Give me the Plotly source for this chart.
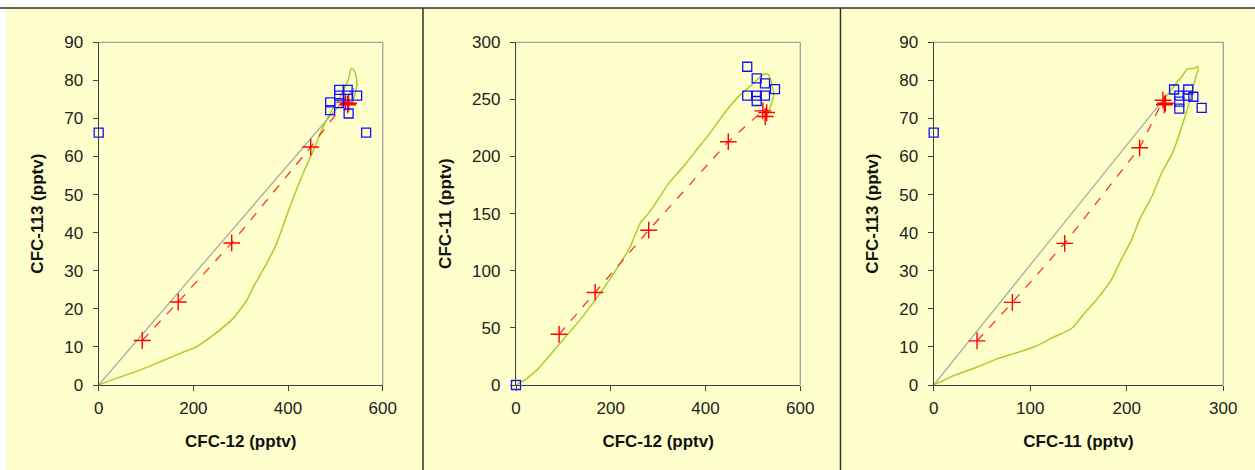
import plotly.graph_objects as go

# ---------------- data ----------------
# Panel 1: CFC-113 vs CFC-12
p1_green_x = [0, 38, 87, 130, 172, 207, 242, 284, 313, 327, 355, 376, 404, 432, 457, 471, 489, 510, 527, 534, 541, 546, 544, 538]
p1_green_y = [0, 1.8, 3.9, 6.1, 8.3, 10.1, 13.1, 17.5, 22.3, 25.8, 32, 37.2, 46.8, 55.6, 62.6, 67, 71.4, 75.7, 80.1, 83.2, 82.3, 79.2, 77.5, 75]
p1_gray_x = [0, 540]
p1_gray_y = [0, 78]
p1_red_x = [92, 168, 281, 448, 521, 528, 526]
p1_red_y = [11.7, 21.8, 37.3, 62.5, 74.3, 74.0, 73.6]
p1_blue_x = [0, 489, 489, 508, 526, 508, 526, 546, 508, 528, 565]
p1_blue_y = [66.3, 74.2, 72.2, 77.5, 77.5, 76.0, 76.0, 76.0, 74.0, 71.3, 66.3]

# Panel 2: CFC-11 vs CFC-12
p2_green_x = [0, 20, 44, 93, 135, 177, 220, 241, 262, 283, 325, 353, 381, 409, 445, 473, 501, 522, 532, 537, 544, 539, 532, 525]
p2_green_y = [0, 5, 13, 36.5, 57, 80, 106.5, 121, 141.5, 152, 178, 191, 205.7, 220.3, 240.7, 254, 264, 272, 272, 268, 255, 246, 238, 230]
p2_red_x = [91, 167, 280, 448, 521, 529, 526]
p2_red_y = [44.4, 81, 135.5, 213, 240, 238.5, 235]
p2_blue_x = [0, 488, 508, 525.5, 546.6, 488, 508, 525.5, 508]
p2_blue_y = [0, 278.6, 268.5, 264, 259, 253.3, 253.3, 253.3, 248.6]

# Panel 3: CFC-113 vs CFC-11
p3_green_x = [0, 22, 46, 67, 84, 105, 122, 143, 156, 170, 184, 194, 205, 213, 226, 236, 248, 257, 264, 269, 274, 270, 263, 257, 246, 238]
p3_green_y = [0, 2.6, 4.8, 7, 8.3, 10.1, 12.3, 14.9, 18.8, 22.8, 27.6, 32.8, 38.1, 43.3, 49.5, 55.6, 61.3, 67.9, 73.5, 78.4, 83.6, 83.2, 83, 81, 77.5, 74.8]
p3_gray_x = [0, 238]
p3_gray_y = [0, 75]
p3_red_x = [44.9, 81.5, 135.7, 213.3, 237.5, 240, 239]
p3_red_y = [11.6, 21.7, 37.2, 62.3, 74.8, 74.0, 73.6]
p3_blue_x = [0, 249, 263.7, 254.4, 263, 269, 254.4, 254.4, 277.6]
p3_blue_y = [66.3, 77.6, 77.6, 76.0, 76.0, 75.7, 74.4, 72.6, 72.8]

panels = [
    dict(green=(p1_green_x, p1_green_y), gray=(p1_gray_x, p1_gray_y), red=(p1_red_x, p1_red_y),
         blue=(p1_blue_x, p1_blue_y), xr=[0, 600], xd=200, yr=[0, 90], yd=10,
         xt="CFC-12 (pptv)", yt="CFC-113 (pptv)"),
    dict(green=(p2_green_x, p2_green_y), gray=None, red=(p2_red_x, p2_red_y),
         blue=(p2_blue_x, p2_blue_y), xr=[0, 600], xd=200, yr=[0, 300], yd=50,
         xt="CFC-12 (pptv)", yt="CFC-11 (pptv)"),
    dict(green=(p3_green_x, p3_green_y), gray=(p3_gray_x, p3_gray_y), red=(p3_red_x, p3_red_y),
         blue=(p3_blue_x, p3_blue_y), xr=[0, 300], xd=100, yr=[0, 90], yd=10,
         xt="CFC-11 (pptv)", yt="CFC-113 (pptv)"),
]

W, H = 1255, 470
xdoms = [(98.7, 382.7), (516.0, 800.3), (933.7, 1223.3)]
ytop, ybot = 42.3, 385.0
ydom = [(H - ybot) / H, (H - ytop) / H]

BG = "#FFFFCC"
AX = "#404040"
FONT = "Liberation Sans, Arial, sans-serif"

fig = go.Figure()
shapes = []
layout = {}
for i, p in enumerate(panels):
    n = "" if i == 0 else str(i + 1)
    xa, ya = "x" + n, "y" + n
    if p["gray"]:
        fig.add_trace(go.Scatter(x=p["gray"][0], y=p["gray"][1], mode="lines",
                                 line=dict(color="#A6A6A6", width=1.2), xaxis=xa, yaxis=ya,
                                 showlegend=False, hoverinfo="skip"))
    fig.add_trace(go.Scatter(x=p["green"][0], y=p["green"][1], mode="lines",
                             line=dict(color="#A4CF2E", width=1.5, shape="spline", smoothing=0.6),
                             xaxis=xa, yaxis=ya, showlegend=False, hoverinfo="skip"))
    fig.add_trace(go.Scatter(x=p["red"][0], y=p["red"][1], mode="lines+markers",
                             line=dict(color="#FF3030", width=1.3, dash="dash"),
                             marker=dict(symbol="cross-thin", size=12, line=dict(color="#FF0000", width=1.4)),
                             xaxis=xa, yaxis=ya, showlegend=False, cliponaxis=False))
    fig.add_trace(go.Scatter(x=p["blue"][0], y=p["blue"][1], mode="markers",
                             marker=dict(symbol="square-open", size=9, color="#1010FF",
                                         line=dict(color="#1010FF", width=1.3)),
                             xaxis=xa, yaxis=ya, showlegend=False, cliponaxis=False))
    x0, x1 = xdoms[i]
    layout["xaxis" + n] = dict(
        domain=[x0 / W, x1 / W], anchor=ya, range=p["xr"], dtick=p["xd"], tick0=0,
        showgrid=False, zeroline=False, showline=True, linecolor=AX, linewidth=1.3,
        ticks="outside", ticklen=5, tickcolor=AX, tickwidth=1.3, automargin=False,
        ticklabelstandoff=2,
        tickfont=dict(family=FONT, size=17, color="#222222"),
        title=dict(text=p["xt"], font=dict(family=FONT, size=17, color="#111111", weight="bold"), standoff=18),
        fixedrange=True)
    layout["yaxis" + n] = dict(
        domain=ydom, anchor=xa, range=p["yr"], dtick=p["yd"], tick0=0,
        showgrid=False, zeroline=False, showline=True, linecolor=AX, linewidth=1.3,
        ticks="outside", ticklen=5, tickcolor=AX, tickwidth=1.3, automargin=False,
        ticklabelstandoff=6,
        tickfont=dict(family=FONT, size=17, color="#222222"),
        title=dict(text=p["yt"], font=dict(family=FONT, size=17, color="#111111", weight="bold"), standoff=16),
        fixedrange=True)
    # gray top/right border of plot area
    shapes.append(dict(type="line", xref=xa + " domain", yref=ya + " domain", x0=0, x1=1, y0=1, y1=1,
                       line=dict(color="#A0A0A0", width=1.3)))
    shapes.append(dict(type="line", xref=xa + " domain", yref=ya + " domain", x0=1, x1=1, y0=0, y1=1,
                       line=dict(color="#A0A0A0", width=1.3)))

# white frame strips and separators
shapes.append(dict(type="rect", xref="paper", yref="paper", x0=0, x1=1, y0=(H - 8) / H, y1=1,
                   fillcolor="white", line=dict(width=0), layer="below"))
shapes.append(dict(type="rect", xref="paper", yref="paper", x0=0, x1=6 / W, y0=0, y1=1,
                   fillcolor="white", line=dict(width=0), layer="below"))
shapes.append(dict(type="line", xref="paper", yref="paper", x0=0, x1=1, y0=(H - 8) / H, y1=(H - 8) / H,
                   line=dict(color="#303030", width=1.5)))
for sx in (423, 840.5):
    shapes.append(dict(type="line", xref="paper", yref="paper", x0=sx / W, x1=sx / W, y0=0, y1=(H - 8) / H,
                       line=dict(color="#303030", width=1.5)))

fig.update_layout(
    width=W, height=H, margin=dict(l=0, r=0, t=0, b=0, autoexpand=False),
    paper_bgcolor=BG, plot_bgcolor=BG, shapes=shapes,
    font=dict(family=FONT), **layout)

fig.write_html("out.html")
